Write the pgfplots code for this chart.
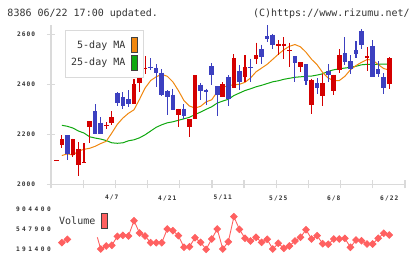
\documentclass[border=0pt]{standalone}
\usepackage{fontspec}
\usepackage{pgfplots}
\usepackage{pgfplotstable}
\pgfplotsset{compat=1.18}
\setmainfont{DejaVu Sans Mono}
\newfontfamily\labelfont{DejaVu Sans Mono}
\newfontfamily\tickfont[LetterSpace=17]{DejaVu Sans Mono}
\newfontfamily\voltickfont[LetterSpace=40]{DejaVu Sans Mono}

\definecolor{upred}{RGB}{212,0,0}
\definecolor{downblue}{RGB}{60,64,192}
\definecolor{ma5}{RGB}{240,136,16}
\definecolor{ma25}{RGB}{16,168,16}
\definecolor{volred}{RGB}{255,96,96}
\definecolor{axisgray}{RGB}{218,218,218}
\definecolor{textgray}{RGB}{51,51,51}

% daily candles, day index 0 = 3/24 ... 60 = 6/22
\pgfplotstableread{
idx open high low close
0  2093 2097 2093 2097
1  2159 2196 2145 2180
3  2116 2183 2109 2180
4  2076 2169 2033 2140
5  2085 2165 2085 2089
6  2229 2252 2165 2252
9  2233 2249 2220 2237
10 2247 2292 2239 2269
14 2321 2420 2321 2400
15 2407 2443 2369 2425
16 2463 2512 2440 2467
22 2279 2303 2229 2303
24 2229 2260 2189 2260
25 2261 2436 2261 2436
30 2349 2409 2349 2400
32 2385 2520 2385 2504
34 2429 2516 2409 2468
36 2500 2567 2481 2516
40 2553 2576 2519 2560
41 2552 2588 2503 2563
42 2534 2567 2469 2538
44 2469 2488 2449 2488
46 2316 2423 2280 2416
48 2353 2443 2313 2404
50 2373 2439 2356 2439
51 2457 2540 2445 2516
56 2505 2548 2452 2512
60 2400 2508 2380 2504
}\upcandles

\pgfplotstableread{
idx open high low close
2  2196 2196 2099 2123
7  2293 2320 2203 2203
8  2247 2268 2203 2203
11 2365 2368 2313 2325
12 2348 2369 2303 2313
13 2340 2377 2309 2321
17 2471 2505 2456 2467
18 2467 2480 2389 2444
19 2447 2460 2352 2356
20 2372 2376 2276 2349
21 2359 2383 2299 2299
23 2303 2320 2260 2273
26 2399 2404 2336 2373
27 2376 2383 2316 2369
28 2472 2485 2396 2436
29 2392 2392 2273 2356
31 2429 2436 2313 2343
33 2452 2476 2377 2409
35 2469 2503 2409 2465
37 2540 2559 2480 2508
38 2592 2636 2569 2580
39 2599 2603 2543 2559
43 2512 2512 2409 2485
45 2480 2480 2396 2413
47 2404 2425 2360 2385
49 2455 2480 2409 2439
52 2524 2588 2476 2489
53 2492 2516 2440 2460
54 2536 2572 2507 2520
55 2612 2620 2540 2556
57 2552 2576 2429 2429
58 2461 2492 2429 2443
59 2429 2445 2360 2385
}\downcandles

% moving averages
\pgfplotstableread{
idx ma5 ma25
1  2115 2236
2  2122 2232
3  2117 2225
4  2133 2213
5  2140 2205
6  2144 2190
7  2152 2185
8  2163 2181
9  2172 2175
10 2205 2166
11 2240 2164
12 2265 2166
13 2284 2174
14 2298 2178
15 2340 2186
16 2385 2198
17 2415 2213
18 2430 2228
19 2440 2238
20 2432 2246
21 2410 2250
22 2375 2256
23 2335 2262
24 2313 2268
25 2305 2279
26 2312 2289
27 2330 2300
28 2338 2310
29 2370 2325
30 2388 2333
31 2395 2340
32 2398 2355
33 2400 2365
34 2408 2375
35 2425 2382
36 2450 2390
37 2465 2396
38 2480 2403
39 2500 2410
40 2520 2414
41 2538 2420
42 2552 2424
43 2559 2428
44 2550 2430
45 2528 2432
46 2500 2433
47 2478 2437
48 2447 2442
49 2425 2452
50 2414 2458
51 2415 2462
52 2432 2465
53 2458 2468
54 2475 2472
55 2488 2478
56 2499 2480
57 2497 2480
58 2479 2480
59 2463 2481
60 2457 2481
}\mavg

% volume
\pgfplotstableread{
idx vol
8  191400
9  244900
10 257000
11 417800
12 435600
13 423100
14 695800
15 476600
16 423100
17 303700
18 303700
19 303700
20 547900
21 517600
22 428500
23 221700
24 232400
25 392800
26 310800
27 186000
28 369600
29 547900
30 191400
31 320000
32 767200
33 542000
34 382100
35 334000
36 400000
37 310800
38 364300
39 191400
40 293000
41 203900
42 244900
43 334000
44 400000
45 535400
46 369600
47 428500
48 285900
49 275200
50 369600
51 369600
52 382100
53 221700
54 351800
55 339300
56 280500
57 280500
58 382100
59 471200
60 440900
}\volume

\begin{document}
\begin{tikzpicture}
\path[use as bounding box] (0,0) rectangle (420bp,259bp);

\node[anchor=west, inner sep=0pt, text=textgray, font=\labelfont\fontsize{10bp}{12bp}\selectfont]
  at (7.3bp,245.7bp) {8386 06/22 17:00 updated.};
\node[anchor=east, inner sep=0pt, text=textgray, font=\labelfont\fontsize{10bp}{12bp}\selectfont]
  at (409.8bp,245.7bp) {(C)https://www.rizumu.net/};

% price panel
\begin{axis}[
  at={(51bp,74.7bp)}, anchor=south west,
  scale only axis, width=354bp, height=159.3bp,
  xmin=-0.955, xmax=62.834, ymin=2000, ymax=2637.2,
  axis x line*=bottom, axis y line*=left,
  axis line style={-, draw=axisgray, line width=1.2bp},
  tick style={draw=axisgray, line width=1.2bp},
  tick align=center, major tick length=8bp,
  scaled x ticks=false, scaled y ticks=false,
  xtick={-0.955,4.844,10.643,16.442,22.241,28.04,33.839,39.638,45.437,51.236,57.035,62.834},
  xticklabels={},
  extra x ticks={10,20,30,40,50,60},
  extra x tick labels={4/7,4/21,5/11,5/25,6/8,6/22},
  extra x tick style={major tick length=0pt,
    xticklabel style={anchor=center, yshift=-13.7bp}},
  ytick={2000,2200,2400,2600},
  yticklabels={2000,2200,2400,2600},
  yticklabel style={anchor=east, inner sep=0pt, xshift=-11.7bp},
  ticklabel style={text=textgray, font=\tickfont\bfseries\fontsize{6.2bp}{7bp}\selectfont},
  legend plot pos=right,
  legend cell align=right,
  legend style={at={(0.0395,0.9686)}, anchor=north west,
    draw=axisgray, line width=1.4bp, fill=white,
    inner xsep=5.5bp, inner ysep=6.5bp, row sep=1.3bp, column sep=6bp,
    font=\labelfont\fontsize{10bp}{12bp}\selectfont, text=textgray,
    nodes={inner sep=0pt}},
]
\addlegendimage{legend image code/.code={\draw[fill=ma5, draw=black!75, line width=0.9bp] (0bp,-7.6bp) rectangle (6bp,7.6bp);}}
\addlegendentry{5-day MA}
\addlegendimage{legend image code/.code={\draw[fill=ma25, draw=black!75, line width=0.9bp] (0bp,-7.6bp) rectangle (6bp,7.6bp);}}
\addlegendentry{25-day MA}

\addplot[ma25, line width=1bp, mark=none, forget plot] table[x=idx, y=ma25] {\mavg};
\addplot[ma5, line width=1bp, mark=none, forget plot] table[x=idx, y=ma5] {\mavg};

% wicks
\addplot[draw=none, mark=none, forget plot,
  error bars/.cd, y dir=minus, y explicit, error mark=none,
  error bar style={draw=upred, line width=1.1bp}]
  table[x=idx, y=high, y error minus expr=\thisrow{high}-\thisrow{low}] {\upcandles};
\addplot[draw=none, mark=none, forget plot,
  error bars/.cd, y dir=minus, y explicit, error mark=none,
  error bar style={draw=downblue, line width=1.1bp}]
  table[x=idx, y=high, y error minus expr=\thisrow{high}-\thisrow{low}] {\downcandles};
% bodies
\addplot[draw=none, mark=none, forget plot,
  error bars/.cd, y dir=minus, y explicit, error mark=none,
  error bar style={draw=upred, line width=4.6bp}]
  table[x=idx, y=close, y error minus expr=\thisrow{close}-\thisrow{open}] {\upcandles};
\addplot[draw=none, mark=none, forget plot,
  error bars/.cd, y dir=minus, y explicit, error mark=none,
  error bar style={draw=downblue, line width=4.6bp}]
  table[x=idx, y=open, y error minus expr=\thisrow{open}-\thisrow{close}] {\downcandles};
\end{axis}

% volume panel
\begin{axis}[
  at={(51bp,4bp)}, anchor=south west,
  scale only axis, width=354bp, height=52bp,
  xmin=-0.955, xmax=62.834, ymin=84450, ymax=1011350,
  axis x line=none, axis y line*=left,
  axis line style={draw=none},
  major tick length=0pt, xtick=\empty,
  scaled y ticks=false,
  ytick={191400,547900,904400},
  yticklabels={191400,547900,904400},
  yticklabel style={anchor=east, inner sep=0pt, xshift=0bp, text=textgray,
    font=\voltickfont\bfseries\fontsize{6.2bp}{7bp}\selectfont},
  clip=false,
  legend plot pos=right,
  legend style={at={(0.0226,0.802)}, anchor=north west, draw=none, fill=none,
    inner sep=0pt, column sep=6bp,
    font=\labelfont\fontsize{10bp}{12bp}\selectfont, text=textgray,
    nodes={inner sep=0pt}},
]
\addlegendimage{legend image code/.code={\draw[fill=volred, draw=black!75, line width=0.9bp] (0bp,-7.5bp) rectangle (5.6bp,7.5bp);}}
\addlegendentry{Volume}

\addplot[volred, line width=0.9bp, mark=square*, mark size=2.3bp,
  mark options={rotate=45, fill=volred, draw=volred}, forget plot]
  coordinates {(1,303700) (2,364300)};
\addplot[volred, line width=0.9bp, mark=none, forget plot]
  coordinates {(7.4,400000) (8,191400)};
\addplot[volred, line width=0.9bp, mark=square*, mark size=2.3bp,
  mark options={rotate=45, fill=volred, draw=volred}, forget plot]
  table[x=idx, y=vol] {\volume};
\end{axis}
\end{tikzpicture}
\end{document}
